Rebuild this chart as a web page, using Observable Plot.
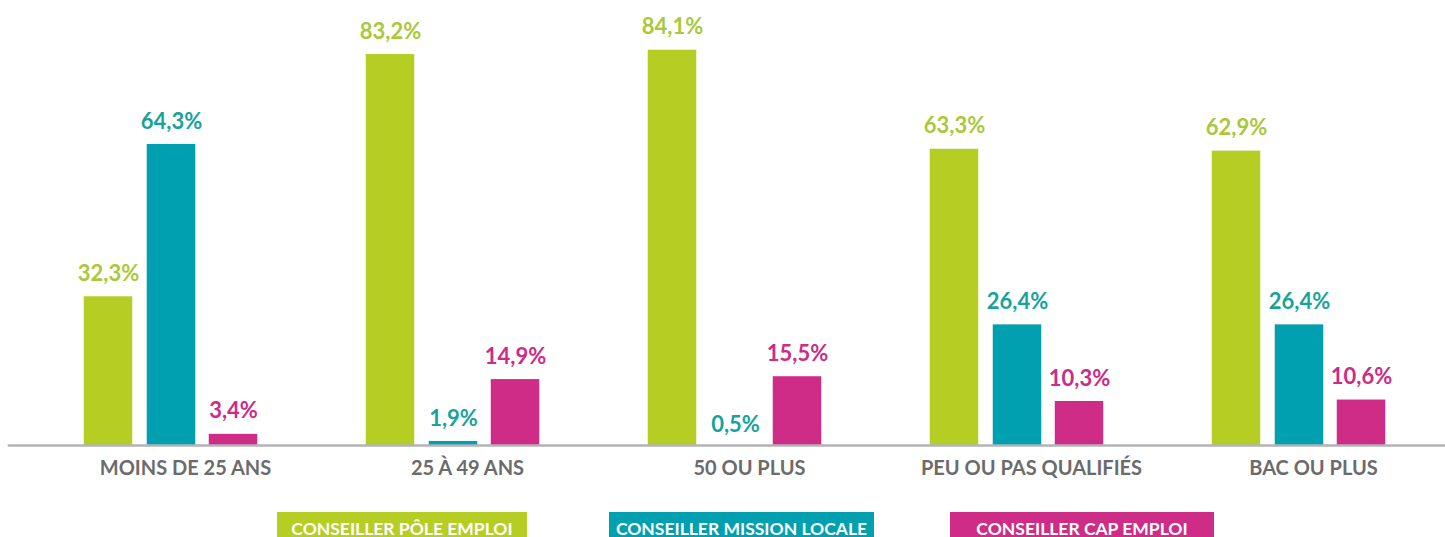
<!DOCTYPE html>
<html><head><meta charset="utf-8">
<script src="https://cdn.jsdelivr.net/npm/d3@7"></script>
<script src="https://cdn.jsdelivr.net/npm/@observablehq/plot@0.6"></script>
<style>
html,body{margin:0;padding:0;background:#fff;font-family:Lato,"Open Sans",sans-serif;overflow:hidden}
#chart svg{display:block;overflow:visible}
#legend{position:relative;height:47px}
.key{position:absolute;top:22px;height:34px;color:#fff;font-weight:700;font-size:17.5px;line-height:20px;text-align:center;padding-top:7px;box-sizing:border-box;white-space:nowrap}
</style></head><body><div id="chart"></div><div id="legend"></div>
<script>
const categories = ["MOINS DE 25 ANS", "25 À 49 ANS", "50 OU PLUS", "PEU OU PAS QUALIFIÉS", "BAC OU PLUS"];
const series = ["CONSEILLER PÔLE EMPLOI", "CONSEILLER MISSION LOCALE", "CONSEILLER CAP EMPLOI"];
const poleEmploi = [32.3, 83.2, 84.1, 63.3, 62.9];
const missionLocale = [64.3, 1.9, 0.5, 26.4, 26.4];
const capEmploi = [3.4, 14.9, 15.5, 10.3, 10.6];
const barColors = ["#b6ce24", "#00a0b0", "#cf2c87"];
const labelColors = ["#a9c83a", "#17a39b", "#cc2b86"];

const values = [poleEmploi, missionLocale, capEmploi];
const offsets = [-63, 0, 62];
const fmt = v => v.toFixed(1).replace(".", ",") + "%";

const marks = [];
series.forEach((s, i) => {
  const data = categories.map((c, j) => ({category: c, value: values[i][j]}));
  marks.push(Plot.barY(data, {x: "category", y: "value", dx: offsets[i], insetLeft: 116.75, insetRight: 116.75, fill: barColors[i], clip: true}));
  marks.push(Plot.text(data, {x: "category", y: "value", dx: offsets[i], dy: -23, text: d => fmt(d.value), fill: labelColors[i], fontSize: 22, fontWeight: 700}));
});
marks.push(Plot.ruleY([1.05], {stroke: "#b3b3b9", strokeWidth: 2.5, insetLeft: -21, insetRight: -4}));
marks.push(Plot.axisX({tickSize: 0, tickPadding: 15, fontSize: 20, fontWeight: 700, fill: "#6b6b6b", dx: 14, label: null}));

const chart = Plot.plot({
  width: 1445,
  height: 490,
  marginLeft: 28.75,
  marginRight: 3.75,
  marginTop: 10,
  marginBottom: 45,
  style: {fontFamily: "Lato, 'Open Sans', sans-serif", background: "#fff", overflow: "visible"},
  x: {domain: categories, padding: 0, axis: null},
  y: {domain: [1.05, 92.45], axis: null},
  marks
});
document.getElementById("chart").appendChild(chart);

const legend = document.getElementById("legend");
const keyLeft = [277, 609, 950];
const keyWidth = [250, 265, 264];
series.forEach((s, i) => {
  const d = document.createElement("div");
  d.className = "key";
  d.textContent = s;
  d.style.left = keyLeft[i] + "px";
  d.style.width = keyWidth[i] + "px";
  d.style.background = barColors[i];
  legend.appendChild(d);
});
</script></body></html>
